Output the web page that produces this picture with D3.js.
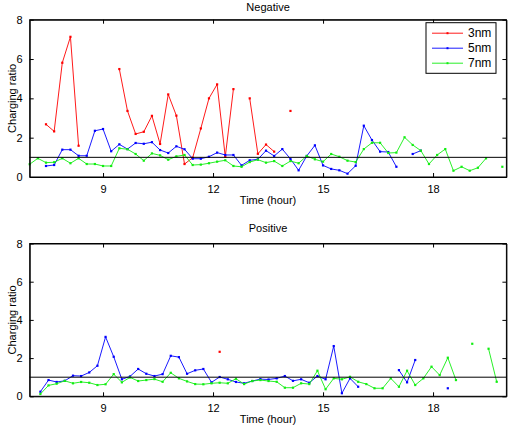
<!DOCTYPE html>
<html><head><meta charset="utf-8">
<script src="https://cdn.jsdelivr.net/npm/d3@7"></script>
<style>body{margin:0;background:#fff}svg{display:block}text{font-family:Arial,"Liberation Sans",sans-serif;fill:#000}</style>
</head><body><div id="c"></div>
<script>
// Sampling grid (hours): every 2/9 h (800 s)
const stepHours = 2 / 9;
const startNeg = 7.0;
const startPos = 7.069;
const xTicks = [9, 12, 15, 18];
const yTicks = [0, 2, 4, 6, 8];
const seriesNames = ["3nm", "5nm", "7nm"];
const seriesColors = ["#ff0000", "#0000ff", "#11ee11"];
const N = null;

// Negative panel (index 0..58)
const neg3nm = [N,N,2.68,2.32,5.81,7.13,1.59,N,N,N,N,5.49,3.36,2.19,2.30,3.11,1.68,4.20,3.12,0.66,0.98,2.47,4.00,4.71,1.03,4.47,N,4.00,1.18,1.65,1.29,N,3.36,N,N,N,N,N,N,N,N,N,N,N,N,N,N,N,N,N,N,N,N,N,N,N,N,N,N];
const neg5nm = [N,N,0.56,0.61,1.39,1.39,1.08,1.08,2.35,2.44,1.31,1.66,1.42,1.73,1.69,1.77,1.37,1.22,1.56,1.41,0.93,0.93,1.03,1.24,1.12,1.12,0.59,0.85,0.90,1.34,1.07,1.42,0.92,0.34,1.07,1.61,0.59,0.41,0.34,0.17,0.57,2.61,1.88,1.29,1.27,0.52,N,1.17,1.34,N,N,N,N,N,N,N,N,N,N];
const neg7nm = [0.65,0.95,0.73,0.75,0.95,0.70,0.95,0.66,0.66,0.56,0.56,1.46,1.41,1.17,0.83,1.20,1.10,0.88,1.05,1.12,0.61,0.63,0.70,0.78,0.85,0.56,0.52,0.76,0.88,0.73,0.81,0.56,0.81,0.70,1.07,0.90,0.78,1.17,1.03,0.83,0.76,1.42,1.74,1.74,1.22,1.24,2.02,1.63,1.34,0.66,1.12,1.42,0.32,0.52,0.32,0.47,0.95,N,0.52];

// Positive panel (index 0..58)
const pos3nm = [N,N,N,N,N,N,N,N,N,N,N,N,N,N,N,N,N,N,N,N,N,N,N,2.33,N,N,N,N,N,N,N,N,N,N,N,N,N,N,N,N,N,N,N,N,N,N,N,N,N,N,N,N,N,N,N,N,N,N,N];
const pos5nm = [N,0.24,0.85,0.75,0.81,1.08,1.06,1.25,1.60,3.11,2.07,0.89,1.04,1.43,1.18,1.06,1.16,2.12,2.05,1.18,1.36,1.43,0.73,1.01,0.89,0.75,0.68,0.80,0.90,0.88,0.94,1.06,0.81,0.89,0.71,1.06,0.89,2.63,0.16,0.94,0.50,N,N,N,N,1.37,0.73,1.90,N,N,N,0.42,N,N,N,N,N,N,N];
const pos7nm = [N,0.12,0.57,0.66,0.81,0.68,0.75,0.71,0.59,0.63,1.16,0.73,0.99,0.80,0.85,0.90,0.76,1.23,0.94,0.78,0.64,0.63,0.68,0.71,0.68,0.92,0.64,0.80,0.85,0.80,0.76,0.45,0.45,0.68,0.64,1.34,0.37,0.94,0.89,1.02,0.76,0.64,0.42,0.42,0.94,0.50,1.34,0.59,0.94,1.55,1.11,2.02,0.85,N,2.75,N,2.49,0.76,N];

const W = 509, H = 426;
const svg = d3.select("#c").append("svg").attr("width", W).attr("height", H);

const x = d3.scaleLinear().domain([7, 20]).range([29.7, 506.4]);

function panel(top, bottom, title, titleY, start, data, legend) {
  const y = d3.scaleLinear().domain([0, 8]).range([bottom, top]);
  const g = svg.append("g");
  data.forEach((vals, k) => {
    const pts = vals.map((v, i) => ({t: start + i * stepHours, v}));
    const line = d3.line().defined(d => d.v !== null).x(d => x(d.t)).y(d => y(d.v));
    g.append("path").attr("d", line(pts)).attr("fill", "none")
      .attr("stroke", seriesColors[k]).attr("stroke-width", 0.9);
    g.selectAll(null).data(pts.filter(d => d.v !== null)).enter().append("rect")
      .attr("x", d => x(d.t) - 1.1).attr("y", d => y(d.v) - 1.1)
      .attr("width", 2.2).attr("height", 2.2).attr("fill", seriesColors[k]);
  });
  g.append("line").attr("x1", x(7)).attr("x2", x(20)).attr("y1", y(1)).attr("y2", y(1))
    .attr("stroke", "#000").attr("stroke-width", 1);
  const ax = g.append("g").attr("transform", `translate(0,${bottom})`)
    .call(d3.axisBottom(x).tickValues(xTicks).tickSizeInner(-4).tickSizeOuter(0).tickPadding(8));
  const axT = g.append("g").attr("transform", `translate(0,${top})`)
    .call(d3.axisTop(x).tickValues(xTicks).tickSizeInner(-4).tickSizeOuter(0).tickFormat(""));
  const ay = g.append("g").attr("transform", `translate(${x(7)},0)`)
    .call(d3.axisLeft(y).tickValues(yTicks).tickSizeInner(-4).tickSizeOuter(0).tickPadding(7));
  const ayR = g.append("g").attr("transform", `translate(${x(20)},0)`)
    .call(d3.axisRight(y).tickValues(yTicks).tickSizeInner(-4).tickSizeOuter(0).tickFormat(""));
  [ax, axT, ay, ayR].forEach(a => {
    a.selectAll("text").attr("font-size", 11).attr("font-family", "Arial, Liberation Sans, sans-serif");
    a.selectAll("line").attr("stroke", "#000");
    a.select(".domain").attr("stroke", "#000");
  });
  g.append("rect").attr("x", x(7)).attr("y", top).attr("width", x(20) - x(7)).attr("height", bottom - top)
    .attr("fill", "none").attr("stroke", "#000").attr("stroke-width", 1);
  const cx = (x(7) + x(20)) / 2;
  g.append("text").attr("x", cx).attr("y", titleY).attr("text-anchor", "middle").attr("font-size", 11).text(title);
  g.append("text").attr("x", cx).attr("y", bottom + 27).attr("text-anchor", "middle").attr("font-size", 11).text("Time (hour)");
  g.append("text").attr("transform", `translate(16,${(top + bottom) / 2}) rotate(-90)`)
    .attr("text-anchor", "middle").attr("font-size", 11).text("Charging ratio");

  if (legend) {
    const lx = 426, ly = 22.7, lw = 70, lh = 50.6;
    const lg = g.append("g");
    lg.append("rect").attr("x", lx).attr("y", ly).attr("width", lw).attr("height", lh)
      .attr("fill", "#fff").attr("stroke", "#000").attr("stroke-width", 1);
    seriesNames.forEach((nm, k) => {
      const yy = ly + 10.5 + k * 15;
      lg.append("line").attr("x1", lx + 6).attr("x2", lx + 37).attr("y1", yy).attr("y2", yy)
        .attr("stroke", seriesColors[k]).attr("stroke-width", 0.9);
      lg.append("rect").attr("x", lx + 21.5 - 1).attr("y", yy - 1).attr("width", 2).attr("height", 2).attr("fill", seriesColors[k]);
      lg.append("text").attr("x", lx + 42).attr("y", yy + 4).attr("font-size", 12).text(nm);
    });
  }
}

panel(19.7, 177, "Negative", 11, startNeg, [neg3nm, neg5nm, neg7nm], true);
panel(243.5, 396.3, "Positive", 232, startPos, [pos3nm, pos5nm, pos7nm], false);
</script></body></html>
